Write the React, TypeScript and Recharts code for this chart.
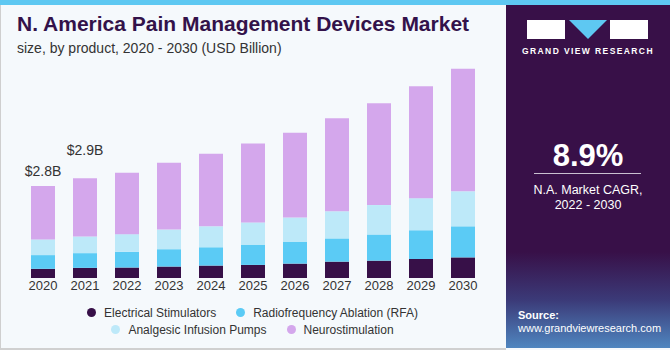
import React from 'react';
import { BarChart, Bar, XAxis, YAxis, LabelList } from 'recharts';

const years = ['2020', '2021', '2022', '2023', '2024', '2025', '2026', '2027', '2028', '2029', '2030'];
const electrical = [0.28, 0.31, 0.32, 0.35, 0.38, 0.4, 0.44, 0.5, 0.53, 0.58, 0.63];
const rfa = [0.42, 0.45, 0.48, 0.53, 0.56, 0.62, 0.66, 0.71, 0.8, 0.88, 0.95];
const analgesic = [0.48, 0.51, 0.54, 0.6, 0.64, 0.68, 0.75, 0.83, 0.9, 0.98, 1.07];
const neuro = [1.63, 1.78, 1.88, 2.04, 2.22, 2.41, 2.59, 2.84, 3.11, 3.42, 3.75];
const totalLabels = ['$2.8B', '$2.9B', '', '', '', '', '', '', '', '', ''];

const series = [
  { key: 'electrical', name: 'Electrical Stimulators', color: '#371048' },
  { key: 'rfa', name: 'Radiofrequency Ablation (RFA)', color: '#5bcbf5' },
  { key: 'analgesic', name: 'Analgesic Infusion Pumps', color: '#bde9f9' },
  { key: 'neuro', name: 'Neurostimulation', color: '#d4a7ec' },
];

const data = years.map((year, i) => ({
  year,
  electrical: electrical[i],
  rfa: rfa[i],
  analgesic: analgesic[i],
  neuro: neuro[i],
  label: totalLabels[i],
}));

const FONT = '"Liberation Sans", Arial, sans-serif';

const TotalLabel = (props: any) => {
  const { x, y, width, value, index } = props;
  if (!value) return null;
  const lift = index === 0 ? 10 : 23;
  return (
    <text x={x + width / 2} y={y - lift} textAnchor="middle" fontSize={14} fill="#333" fontFamily={FONT}>
      {value}
    </text>
  );
};

const LegendItem = ({ name, color }: { name: string; color: string }) => (
  <div style={{ display: 'flex', alignItems: 'center', margin: '0 10px' }}>
    <span style={{ width: 9, height: 9, borderRadius: '50%', background: color, marginRight: 8 }} />
    <span>{name}</span>
  </div>
);

export default function App() {
  return (
    <div style={{ position: 'fixed', top: 0, left: 0, width: 670, height: 350, background: '#f5f9fc', fontFamily: FONT, overflow: 'hidden' }}>
      <div style={{ position: 'absolute', left: 0, top: 0, width: 670, height: 5, background: '#5ec8f2' }} />
      <div style={{ position: 'absolute', left: 0, top: 5, width: 1, height: 345, background: '#cfcfcf' }} />
      <div style={{ position: 'absolute', left: 0, top: 348, width: 506, height: 2, background: '#d0d0d0' }} />

      <div style={{ position: 'absolute', left: 17, top: 12, fontSize: 21, fontWeight: 'bold', color: '#33124a', whiteSpace: 'nowrap' }}>
        N. America Pain Management Devices Market
      </div>
      <div style={{ position: 'absolute', left: 17, top: 40, fontSize: 14, color: '#333', whiteSpace: 'nowrap' }}>
        size, by product, 2020 - 2030 (USD Billion)
      </div>

      <div style={{ position: 'absolute', left: 0, top: 0 }}>
        <BarChart width={505} height={350} data={data} margin={{ top: 49, right: 21, bottom: 52, left: 22 }}>
          <XAxis
            dataKey="year"
            interval={0}
            axisLine={false}
            tickLine={false}
            tickSize={0}
            tickMargin={3}
            height={20}
            tick={{ fontSize: 13, fill: '#333', fontFamily: FONT }}
          />
          <YAxis hide domain={[0, 7]} />
          {series.map((s) => (
            <Bar key={s.key} dataKey={s.key} name={s.name} stackId="a" fill={s.color} barSize={24} isAnimationActive={false}>
              {s.key === 'neuro' && <LabelList dataKey="label" content={TotalLabel} />}
            </Bar>
          ))}
        </BarChart>
      </div>

      <div style={{ position: 'absolute', left: 0, top: 304, width: 505, fontSize: 12, color: '#333' }}>
        <div style={{ display: 'flex', justifyContent: 'center', height: 17 }}>
          <LegendItem name={series[0].name} color={series[0].color} />
          <LegendItem name={series[1].name} color={series[1].color} />
        </div>
        <div style={{ display: 'flex', justifyContent: 'center', height: 17 }}>
          <LegendItem name={series[2].name} color={series[2].color} />
          <LegendItem name={series[3].name} color={series[3].color} />
        </div>
      </div>

      <div style={{ position: 'absolute', left: 506, top: 5, width: 164, height: 343, background: 'linear-gradient(to bottom, #381048 0%, #381048 72%, #3b3a78 86%, #4f86c0 100%)', color: '#fff' }}>
        <div style={{ position: 'absolute', left: 21, top: 15, width: 38, height: 19, background: '#fff' }} />
        <svg style={{ position: 'absolute', left: 63, top: 15 }} width={38} height={19}>
          <polygon points="0,0 38,0 19,19" fill="#5ec8f2" />
        </svg>
        <div style={{ position: 'absolute', left: 104, top: 15, width: 38, height: 19, background: '#fff' }} />
        <div style={{ position: 'absolute', left: 0, top: 41, width: 164, textAlign: 'center', fontSize: 8.5, fontWeight: 'bold', letterSpacing: 1.4 }}>
          GRAND VIEW RESEARCH
        </div>
        <div style={{ position: 'absolute', left: 0, top: 133, width: 164, textAlign: 'center', fontSize: 31, fontWeight: 'bold' }}>
          8.9%
        </div>
        <div style={{ position: 'absolute', left: 28, top: 168, width: 107, height: 1, background: '#c9c0d0' }} />
        <div style={{ position: 'absolute', left: 0, top: 178, width: 164, textAlign: 'center', fontSize: 12.5, lineHeight: '15px' }}>
          N.A. Market CAGR,
          <br />
          2022 - 2030
        </div>
        <div style={{ position: 'absolute', left: 12, top: 304, fontSize: 11, lineHeight: '13px' }}>
          <b>Source:</b>
          <br />
          www.grandviewresearch.com
        </div>
      </div>
    </div>
  );
}
